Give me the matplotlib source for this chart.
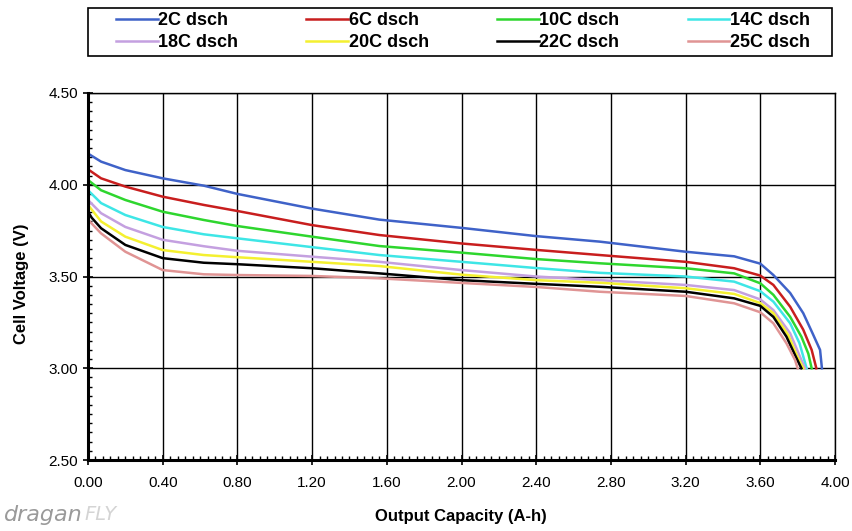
import matplotlib.pyplot as plt
from matplotlib.patches import Rectangle
from matplotlib.ticker import MultipleLocator, FormatStrFormatter

# capacidade (A-h) e tensao (V), uma lista por curva
cap_2c = [0.00, 0.07, 0.20, 0.40, 0.62, 0.80, 1.20, 1.56, 2.00, 2.40, 2.74, 3.20, 3.46, 3.60, 3.67, 3.76, 3.83, 3.88, 3.92, 3.93]
v_2c = [4.17, 4.126, 4.08, 4.035, 3.995, 3.95, 3.87, 3.81, 3.765, 3.72, 3.69, 3.635, 3.61, 3.57, 3.508, 3.41, 3.30, 3.19, 3.10, 3.00]

cap_6c = [0.00, 0.07, 0.20, 0.40, 0.62, 0.80, 1.20, 1.56, 2.00, 2.40, 2.74, 3.20, 3.46, 3.60, 3.67, 3.76, 3.83, 3.875, 3.90]
v_6c = [4.084, 4.035, 3.99, 3.935, 3.89, 3.857, 3.78, 3.726, 3.68, 3.645, 3.617, 3.58, 3.545, 3.505, 3.454, 3.335, 3.21, 3.10, 3.00]

cap_10c = [0.00, 0.07, 0.20, 0.40, 0.62, 0.80, 1.20, 1.56, 2.00, 2.40, 2.74, 3.20, 3.46, 3.60, 3.67, 3.76, 3.82, 3.857, 3.875]
v_10c = [4.026, 3.97, 3.917, 3.853, 3.808, 3.775, 3.717, 3.666, 3.63, 3.595, 3.572, 3.545, 3.517, 3.463, 3.40, 3.28, 3.172, 3.08, 3.00]

cap_14c = [0.00, 0.07, 0.20, 0.40, 0.62, 0.80, 1.20, 1.56, 2.00, 2.40, 2.74, 3.20, 3.46, 3.60, 3.67, 3.76, 3.81, 3.848]
v_14c = [3.97, 3.90, 3.835, 3.77, 3.73, 3.708, 3.66, 3.617, 3.58, 3.546, 3.52, 3.50, 3.472, 3.42, 3.363, 3.245, 3.136, 3.00]

cap_18c = [0.00, 0.07, 0.20, 0.40, 0.62, 0.80, 1.20, 1.56, 2.00, 2.40, 2.74, 3.20, 3.46, 3.60, 3.67, 3.76, 3.82, 3.84]
v_18c = [3.917, 3.845, 3.77, 3.70, 3.665, 3.64, 3.608, 3.58, 3.535, 3.50, 3.48, 3.454, 3.426, 3.375, 3.317, 3.19, 3.045, 3.00]

cap_20c = [0.00, 0.07, 0.20, 0.40, 0.62, 0.80, 1.20, 1.56, 2.00, 2.40, 2.74, 3.20, 3.46, 3.60, 3.67, 3.75, 3.80, 3.83]
v_20c = [3.89, 3.80, 3.717, 3.644, 3.617, 3.605, 3.58, 3.557, 3.51, 3.48, 3.466, 3.436, 3.405, 3.355, 3.30, 3.18, 3.06, 3.00]

cap_22c = [0.00, 0.02, 0.07, 0.20, 0.40, 0.62, 0.80, 1.20, 1.56, 2.00, 2.40, 2.74, 3.20, 3.46, 3.60, 3.67, 3.74, 3.79, 3.82]
v_22c = [3.853, 3.82, 3.763, 3.672, 3.60, 3.575, 3.567, 3.545, 3.517, 3.48, 3.46, 3.444, 3.417, 3.381, 3.34, 3.28, 3.172, 3.063, 3.00]

cap_25c = [0.00, 0.07, 0.20, 0.40, 0.62, 0.80, 1.20, 1.56, 2.00, 2.40, 2.74, 3.20, 3.46, 3.60, 3.67, 3.74, 3.786, 3.80]
v_25c = [3.81, 3.735, 3.635, 3.535, 3.512, 3.508, 3.503, 3.49, 3.465, 3.443, 3.417, 3.394, 3.354, 3.305, 3.245, 3.136, 3.045, 3.00]

rotulos = ['2C dsch', '6C dsch', '10C dsch', '14C dsch', '18C dsch', '20C dsch', '22C dsch', '25C dsch']
cores = ['#3f62c8', '#c81e1e', '#2ed62e', '#3ee6e6', '#c4a0e0', '#f4f030', '#000000', '#e09494']

curvas = [(cap_2c, v_2c), (cap_6c, v_6c), (cap_10c, v_10c), (cap_14c, v_14c),
          (cap_18c, v_18c), (cap_20c, v_20c), (cap_22c, v_22c), (cap_25c, v_25c)]

fonte = ['Liberation Sans', 'DejaVu Sans']
plt.rcParams['font.family'] = fonte

fig = plt.figure(figsize=(8.53, 5.31), dpi=100)
ax = fig.add_axes([88/853, 1 - 460/531, (835-88)/853, (460-93)/531])

linhas = []
for (cap, volt), cor, rot in zip(curvas, cores, rotulos):
    l, = ax.plot(cap, volt, color=cor, lw=1.8, label=rot)
    linhas.append(l)

ax.set_xlim(0, 4)
ax.set_ylim(2.5, 4.5)
ax.xaxis.set_major_locator(MultipleLocator(0.4))
ax.xaxis.set_minor_locator(MultipleLocator(0.04))
ax.yaxis.set_major_locator(MultipleLocator(0.5))
ax.yaxis.set_minor_locator(MultipleLocator(0.05))
ax.xaxis.set_major_formatter(FormatStrFormatter('%.2f'))
ax.yaxis.set_major_formatter(FormatStrFormatter('%.2f'))
ax.grid(True, which='major', color='black', lw=1.0)
ax.tick_params(which='major', direction='inout', length=7, width=1.2, labelsize=11, colors='black')
ax.tick_params(which='minor', direction='in', length=3, width=1)
ax.tick_params(axis='x', pad=8)
for lado in ['left', 'bottom']:
    ax.spines[lado].set_linewidth(2.2)
for lado in ['right', 'top']:
    ax.spines[lado].set_linewidth(1.0)

fig.text(22/853, 1 - 284/531, 'Cell Voltage (V)', rotation=90, ha='center', va='center',
         fontsize=12, fontweight='bold')
fig.text(461/853, 1 - 517/531, 'Output Capacity (A-h)', ha='center', va='center',
         fontsize=12, fontweight='bold')

# marca d'agua no canto
t1 = fig.text(4/853, 1 - 515/531, 'dragan', color='#9a9a9a', fontsize=16, style='italic',
              ha='left', va='center', family=['DejaVu Sans'])
ax.annotate('FLY', xy=(1, 0.5), xycoords=t1, xytext=(1, 0), textcoords='offset points',
            color='#d4d4d4', fontsize=14, style='italic', ha='left', va='center',
            family=['DejaVu Sans'], annotation_clip=False)

# legenda: caixa desenhada a parte, entradas em linhas (ordem por linha)
fig.patches.append(Rectangle((88/853, 1 - 56/531), (832-88)/853, 48/531,
                             transform=fig.transFigure, fill=False, edgecolor='black', lw=1.2))
ordem = [0, 4, 1, 5, 2, 6, 3, 7]
leg = fig.legend(handles=[linhas[i] for i in ordem], loc='upper left', ncol=4, mode='expand',
                 bbox_to_anchor=(116/853, 1 - 12/531, (810-116)/853, 0.0001),
                 frameon=False, borderpad=0, borderaxespad=0,
                 handlelength=2.3, handletextpad=0.05, labelspacing=0.3,
                 prop={'size': 13, 'weight': 'bold'})

fig.savefig('out.png', dpi=100)
